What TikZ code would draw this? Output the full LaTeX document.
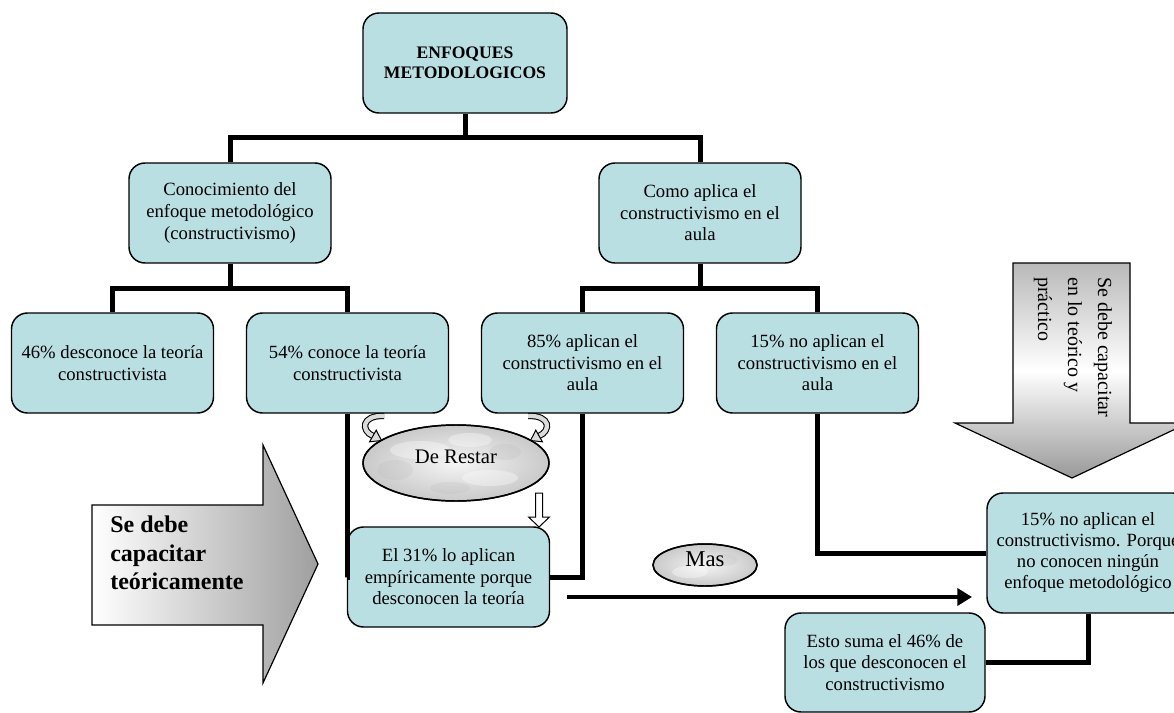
\documentclass[tikz,border=0pt]{standalone}
\usepackage{fontspec}
\setmainfont{Liberation Serif}
\usetikzlibrary{arrows.meta,shapes.geometric,calc}
\definecolor{boxfill}{RGB}{185,223,227}
\begin{document}
\begin{tikzpicture}[x=0.75pt,y=-0.75pt,
  box/.style={draw=black, line width=1.1pt, fill=boxfill, rounded corners=12pt,
    minimum width=151.5pt, minimum height=75pt, align=center, inner sep=2pt,
    font=\fontsize{14}{16.2}\selectfont},
  conn/.style={line width=3.75pt},
  marble/.style={ellipse, draw=black, line width=1.1pt, inner color=gray!8, outer color=gray!42},
  blotch/.style={fill=white, opacity=0.35},
  blotchd/.style={fill=gray!60, opacity=0.18},
  bigarrow/.style={draw=black, line width=0.9pt},
  bandout/.style={line width=4.8pt, black},
  bandin/.style={line width=3.2pt, gray!28},
  bandhead/.style={draw=black, fill=gray!28, line width=0.75pt, line join=miter},
  hollow/.style={draw=black, fill=white, line width=0.75pt}]
\useasboundingbox (0,0) rectangle (1174,713);
\clip (0,0) rectangle (1174,713);

% boxes
\node[box, minimum width=153pt, font=\fontsize{13.2}{15}\selectfont\bfseries] (top) at (465,63) {ENFOQUES\\METODOLOGICOS};
\node[box] (conoc) at (230,213) {Conocimiento del\\enfoque metodológico\\(constructivismo)};
\node[box] (como) at (700,213) {Como aplica el\\constructivismo en el\\aula};
\node[box] (d46) at (112.5,363) {46\% desconoce la teoría\\constructivista};
\node[box] (c54) at (347.5,363) {54\% conoce la teoría\\constructivista};
\node[box] (a85) at (582.5,363) {85\% aplican el\\constructivismo en el\\aula};
\node[box] (n15) at (817.5,363) {15\% no aplican el\\constructivismo en el\\aula};
\node[box] (e31) at (448.5,577) {El 31\% lo aplican\\empíricamente porque\\desconocen la teoría};
\node[box, minimum height=90pt, font=\fontsize{14}{15.75}\selectfont] (n15b) at (1088,553) {15\% no aplican el\\constructivismo. Porque\\no conocen ningún\\enfoque metodológico};
\node[box, minimum width=150pt, minimum height=74.25pt] (esto) at (885,662.5) {Esto suma el 46\% de\\los que desconocen el\\constructivismo};

% tree connectors
\coordinate (b1) at (465,138);
\coordinate (b2) at (230,288);
\coordinate (b3) at (700,288);
\draw[conn] (top.south) -- (b1);
\draw[conn] (conoc.north) |- (b1) -| (como.north);
\draw[conn] (conoc.south) -- (b2);
\draw[conn] (d46.north) |- (b2) -| (c54.north);
\draw[conn] (como.south) -- (b3);
\draw[conn] (a85.north) |- (b3) -| (n15.north);
\draw[conn] (c54.south) |- (e31.west);
\draw[conn] (a85.south) |- (e31.east);
\draw[conn] (n15.south) |- (n15b.west);
\draw[conn] (n15b.south) |- (esto.east);

% long arrow
\coordinate (arS) at (567,597);
\coordinate (arE) at (972,597);
\draw[line width=3pt, -{Triangle[length=11pt,width=12.75pt]}] (arS) -- (arE);

% ellipses (marble look)
\node[marble, minimum width=139.5pt, minimum height=57pt] (restar) at (456,463) {};
\begin{scope}
  \clip (456,463) ellipse [x radius=92, y radius=37];
  \fill[blotch] (420,450) ellipse [x radius=30, y radius=9];
  \fill[blotch] (490,478) ellipse [x radius=28, y radius=8];
  \fill[blotch] (470,440) ellipse [x radius=22, y radius=7];
  \fill[blotchd] (395,470) ellipse [x radius=18, y radius=10];
  \fill[blotchd] (505,452) ellipse [x radius=16, y radius=8];
  \fill[blotchd] (450,488) ellipse [x radius=20, y radius=6];
\end{scope}
\draw[line width=1.1pt] (456,463) ellipse [x radius=93, y radius=38];
\node[font=\fontsize{15.5}{18}\selectfont] (restarT) at (456,457) {De Restar};
\node[marble, minimum width=78pt, minimum height=31.5pt] (mas) at (705,565) {};
\begin{scope}
  \clip (705,565) ellipse [x radius=51, y radius=20];
  \fill[blotch] (690,572) ellipse [x radius=18, y radius=6];
  \fill[blotchd] (725,560) ellipse [x radius=12, y radius=6];
\end{scope}
\draw[line width=1.1pt] (705,565) ellipse [x radius=52, y radius=21];
\node[font=\fontsize{17}{20}\selectfont] (masT) at (705,559) {Mas};

% curved arrows into De Restar
\draw[bandout] (384,416) .. controls (361,415) and (361,431) .. (373,436);
\draw[bandin] (384,416) .. controls (361,415) and (361,431) .. (373,436);
\draw[bandhead] (381.5,440.5) -- (369.6,441.8) -- (376.2,430.2) -- cycle;
\draw[bandout] (528,416) .. controls (551,415) and (551,431) .. (539,436);
\draw[bandin] (528,416) .. controls (551,415) and (551,431) .. (539,436);
\draw[bandhead] (530.5,440.5) -- (542.4,441.8) -- (535.8,430.2) -- cycle;

% small hollow down arrow
\draw[hollow] (535.5,493) -- (542.5,493) -- (542.5,517) -- (549.5,517) -- (539,527) -- (528.5,517) -- (535.5,517) -- cycle;

% big left arrow
\draw[bigarrow, left color=white, right color=gray!75] (92,505) -- (263,505) -- (263,445) -- (318,564) -- (263,683) -- (263,625) -- (92,625) -- cycle;
\node[font=\fontsize{18}{21.5}\selectfont\bfseries, align=left, anchor=west, inner sep=0pt] (ltxt) at (110,553) {Se debe\\capacitar\\teóricamente};

% big right arrow
\draw[bigarrow, top color=gray!55, bottom color=gray!80, middle color=white] (1013,263) -- (1130,263) -- (1130,423) -- (1188,423) -- (1072,478) -- (955,423) -- (1013,423) -- cycle;
\node[font=\fontsize{15}{22.5}\selectfont, align=left, rotate=-90, anchor=west, inner sep=0pt] (rtxt) at (1073,277) {Se debe capacitar\\en lo teórico y\\práctico};
\end{tikzpicture}
\end{document}
